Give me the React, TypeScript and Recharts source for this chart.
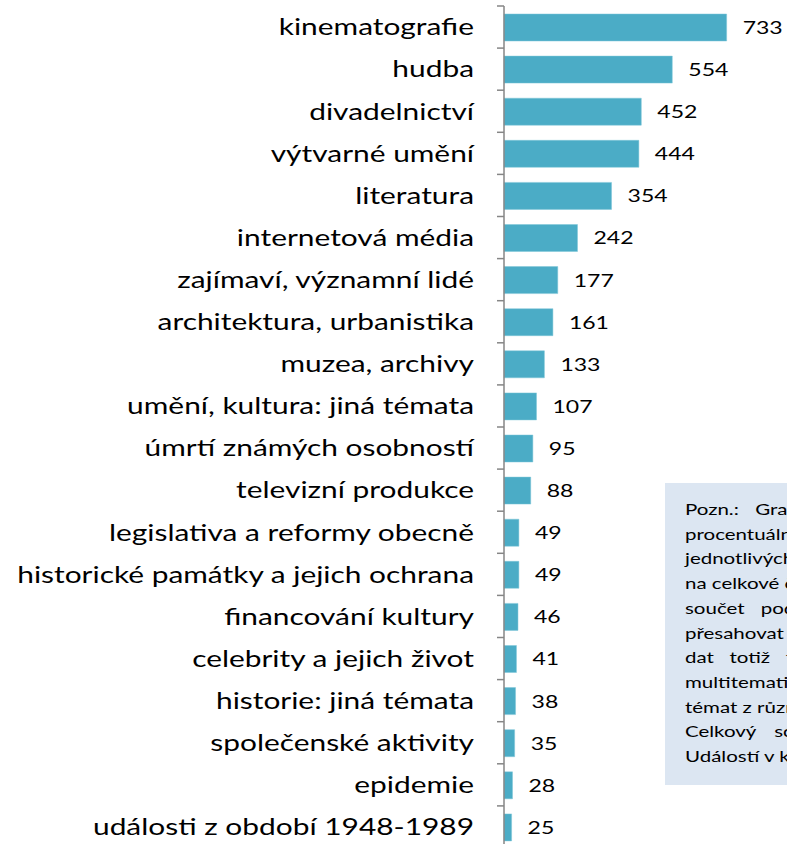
import { BarChart, Bar, XAxis, YAxis, LabelList } from "recharts";

const categories = [
  "kinematografie",
  "hudba",
  "divadelnictví",
  "výtvarné umění",
  "literatura",
  "internetová média",
  "zajímaví, významní lidé",
  "architektura, urbanistika",
  "muzea, archivy",
  "umění, kultura: jiná témata",
  "úmrtí známých osobností",
  "televizní produkce",
  "legislativa a reformy obecně",
  "historické památky a jejich ochrana",
  "financování kultury",
  "celebrity a jejich život",
  "historie: jiná témata",
  "společenské aktivity",
  "epidemie",
  "události z období 1948-1989",
];

const counts = [733, 554, 452, 444, 354, 242, 177, 161, 133, 107, 95, 88, 49, 49, 46, 41, 38, 35, 28, 25];

const noteLines = [
  "Pozn.: Graf neuvádí",
  "procentuální podíly",
  "jednotlivých témat",
  "na celkové četnosti, jejich",
  "součet podílů může",
  "přesahovat 100 %. Část",
  "dat totiž tvoří také",
  "multitematické Události",
  "témat z různých oblastí.",
  "Celkový součet dat",
  "Událostí v kultuře: 2 532.",
];

const data = categories.map((name, i) => ({ name, value: counts[i] }));

const FONT = "Lato, 'Open Sans', sans-serif";
const STRETCH = 1.28;
const CHART_H = 848;
const TOP = 6;
const BAND = (CHART_H - TOP) / categories.length;

function CategoryTick(props: any) {
  const { x, y, payload, index } = props;
  const axisX = x + 30;
  return (
    <g>
      <line x1={axisX - 7} x2={axisX} y1={y - BAND / 2} y2={y - BAND / 2} stroke="#868686" strokeWidth={1.5} />
      {index === categories.length - 1 && (
        <line x1={axisX - 7} x2={axisX} y1={y + BAND / 2} y2={y + BAND / 2} stroke="#868686" strokeWidth={1.5} />
      )}
      <text
        transform={`translate(${x},${y}) scale(1.3,1)`}
        dy="0.36em"
        textAnchor="end"
        fontSize={23}
        fontFamily={FONT}
        fill="#000"
      >
        {payload.value}
      </text>
    </g>
  );
}

function ValueLabel(props: any) {
  const { x, y, width, height, value } = props;
  return (
    <text
      transform={`translate(${x + width + 16},${y + height / 2}) scale(${STRETCH},1)`}
      dy="0.36em"
      textAnchor="start"
      fontSize={18}
      fontFamily={FONT}
      fill="#000"
    >
      {value}
    </text>
  );
}

export default function App() {
  return (
    <div style={{ position: "absolute", left: 0, top: 0, width: 787, height: 844, overflow: "hidden", background: "#fff" }}>
      <BarChart
        width={787}
        height={CHART_H}
        data={data}
        layout="vertical"
        margin={{ top: TOP, right: 40, bottom: 0, left: 0 }}
        barSize={27}
      >
        <XAxis type="number" domain={[0, 800]} hide />
        <YAxis
          type="category"
          dataKey="name"
          width={504}
          axisLine={{ stroke: "#868686", strokeWidth: 1.5 }}
          tickLine={false}
          tickSize={0}
          tickMargin={30}
          interval={0}
          tick={<CategoryTick />}
        />
        <Bar dataKey="value" fill="#4BACC6" stroke="#7fc6d8" strokeWidth={0.5} isAnimationActive={false}>
          <LabelList dataKey="value" content={<ValueLabel />} />
        </Bar>
      </BarChart>
      <div
        style={{
          position: "absolute",
          left: 665,
          top: 483,
          width: 240,
          height: 302,
          boxSizing: "border-box",
          padding: "14px 0 0 20px",
          background: "#DCE6F2",
        }}
      >
        <div
          style={{
            width: 196 / STRETCH,
            transform: `scaleX(${STRETCH})`,
            transformOrigin: "left top",
            fontFamily: FONT,
            fontSize: 16,
            lineHeight: "24.7px",
            color: "#000",
          }}
        >
          {noteLines.map((line, i) => (
            <div
              key={i}
              style={{
                textAlign: "justify",
                textAlignLast: i === noteLines.length - 1 ? "left" : "justify",
                whiteSpace: "nowrap",
              }}
            >
              {line}
            </div>
          ))}
        </div>
      </div>
    </div>
  );
}
